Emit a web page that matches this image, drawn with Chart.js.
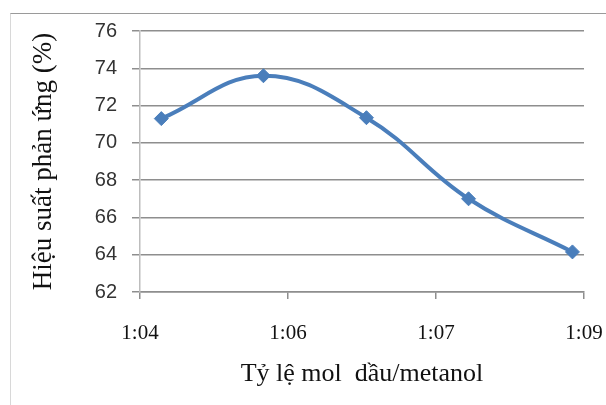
<!DOCTYPE html>
<html>
<head>
<meta charset="utf-8">
<script src="https://cdn.jsdelivr.net/npm/chart.js@4.4.0/dist/chart.umd.min.js"></script>
<style>
  html, body { margin: 0; padding: 0; background: #fff; }
  #wrap { position: relative; width: 606px; height: 405px; }
  #frame { position: absolute; left: 10px; top: 13px; right: 0; bottom: 0;
           border-left: 1px solid #d8d8d8; border-top: 1px solid #9a9a9a; }
  canvas { position: absolute; left: 0; top: 0; }
</style>
</head>
<body>
<div id="wrap">
  <div id="frame"></div>
  <canvas id="chart" width="606" height="405"></canvas>
</div>
<script>
// ty le mol (as time-formatted minutes, like the spreadsheet axis)
const ratios = [4.24, 5.39, 6.55, 7.70, 8.87];
const yields = [71.3, 73.6, 71.35, 67.0, 64.15];
const xTickLabels = ['1:04', '1:06', '1:07', '1:09'];
const xMin = 4, xMax = 9;

const blue = '#4a7ebb';

const ctx = document.getElementById('chart');
new Chart(ctx, {
  type: 'scatter',
  data: {
    datasets: [{
      data: ratios.map((r, i) => ({ x: r, y: yields[i] })),
      showLine: true,
      borderColor: blue,
      backgroundColor: blue,
      borderWidth: 4,
      tension: 0.4,
      pointStyle: 'rectRot',
      pointRadius: 7,
      pointBorderWidth: 1,
      pointBorderColor: blue
    }]
  },
  options: {
    responsive: false,
    animation: false,
    layout: { padding: { left: 18, top: 31, right: 22, bottom: 13 } },
    plugins: { legend: { display: false }, tooltip: { enabled: false } },
    scales: {
      x: {
        type: 'linear',
        min: xMin,
        max: xMax,
        afterBuildTicks: (scale) => {
          scale.ticks = xTickLabels.map((_, i) => ({ value: xMin + i * (xMax - xMin) / (xTickLabels.length - 1) }));
        },
        afterFit: (scale) => {
          scale.height = 100;
          scale.paddingLeft = 0;
          scale.paddingRight = 0;
        },
        grid: { drawOnChartArea: false, tickLength: 7, color: '#8e8e8e', lineWidth: 1.5 },
        border: { color: '#8e8e8e', width: 1.5 },
        ticks: {
          padding: 22,
          color: '#111',
          font: { family: 'Liberation Serif', size: 21 },
          maxRotation: 0,
          callback: (v, i) => xTickLabels[i]
        },
        title: {
          display: true,
          text: 'Tỷ lệ mol  dầu/metanol',
          color: '#111',
          font: { family: 'Liberation Serif', size: 26 },
          padding: { top: 4, bottom: 2 }
        }
      },
      y: {
        min: 62,
        max: 76,
        afterFit: (scale) => { scale.width = 122; },
        grid: { tickLength: 8, color: '#8e8e8e', lineWidth: 1.5 },
        border: { color: '#bdbdbd', width: 1.5 },
        ticks: {
          stepSize: 2,
          padding: 15,
          color: '#333',
          font: { family: 'Liberation Sans', size: 20 }
        },
        title: {
          display: true,
          text: 'Hiệu suất phản ứng (%)',
          color: '#111',
          font: { family: 'Liberation Serif', size: 27 },
          padding: { top: 10, bottom: 4 }
        }
      }
    }
  }
});
</script>
</body>
</html>
